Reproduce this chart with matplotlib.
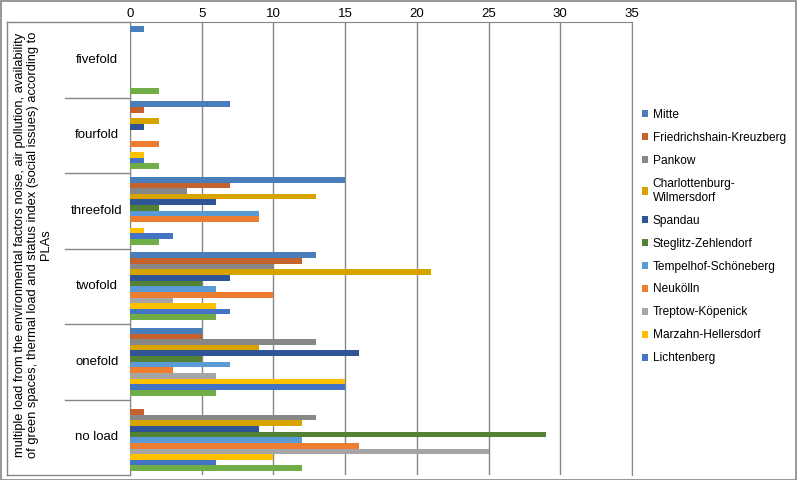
import matplotlib
matplotlib.use("Agg")
import matplotlib.pyplot as plt
import matplotlib.transforms as mtrans
from matplotlib.patches import Rectangle
from matplotlib.lines import Line2D
import numpy as np

plt.rcParams['font.family'] = ['Liberation Sans', 'DejaVu Sans']

categories = ["fivefold", "fourfold", "threefold", "twofold", "onefold", "no load"]
districts = ["Mitte", "Friedrichshain-Kreuzberg", "Pankow", "Charlottenburg-\nWilmersdorf",
             "Spandau", "Steglitz-Zehlendorf", "Tempelhof-Schöneberg", "Neukölln",
             "Treptow-Köpenick", "Marzahn-Hellersdorf", "Lichtenberg", "Reinickendorf"]
colors = ["#4a7ebb", "#c5612d", "#878787", "#d6a300", "#2f5597", "#548235",
          "#5b9bd5", "#ed7d31", "#a5a5a5", "#ffc000", "#4472c4", "#70ad47"]

# values per district, in order of categories (fivefold ... no load)
mitte          = [1, 7, 15, 13, 5, 0]
friedrichshain = [0, 1, 7, 12, 5, 1]
pankow         = [0, 0, 4, 10, 13, 13]
charlottenburg = [0, 2, 13, 21, 9, 12]
spandau        = [0, 1, 6, 7, 16, 9]
steglitz       = [0, 0, 2, 5, 5, 29]
tempelhof      = [0, 0, 9, 6, 7, 12]
neukoelln      = [0, 2, 9, 10, 3, 16]
treptow        = [0, 0, 0, 3, 6, 25]
marzahn        = [0, 1, 1, 6, 15, 10]
lichtenberg    = [0, 1, 3, 7, 15, 6]
reinickendorf  = [2, 2, 2, 6, 6, 12]
series = [mitte, friedrichshain, pankow, charlottenburg, spandau, steglitz,
          tempelhof, neukoelln, treptow, marzahn, lichtenberg, reinickendorf]

xticks = [0, 5, 10, 15, 20, 25, 30, 35]
axis_title = ("multiple load from the environmental factors noise, air pollution, availability\n"
              "of green spaces, thermal load and status index (social issues) according to\nPLAs")

W, H = 797, 480
fig = plt.figure(figsize=(W / 100, H / 100), dpi=100)
left, right, top, bottom = 130, 632, 22, 475
ax = fig.add_axes([left / W, 1 - bottom / H, (right - left) / W, (bottom - top) / H])

grid_c = "#868686"
n = len(series)
step = 0.0747
ypos = np.arange(len(categories))
handles = []
for j, (vals, col) in enumerate(zip(series, colors)):
    b = ax.barh(ypos + (j - (n - 1) / 2) * step, vals, height=step, color=col,
                label=districts[j], zorder=3)
    handles.append(b)

ax.set_ylim(len(categories) - 0.5, -0.5)
ax.set_xlim(0, 35)
ax.xaxis.tick_top()
ax.set_xticks(xticks)
ax.tick_params(axis='x', length=0, labelsize=9.5, pad=1.5, colors='black')
ax.set_yticks([])
ax.grid(axis='x', color=grid_c, linewidth=1, zorder=0)
ax.spines['bottom'].set_visible(False)
for s in ['left', 'top', 'right']:
    ax.spines[s].set_color(grid_c)

# category labels and separators
trans = mtrans.blended_transform_factory(fig.transFigure, ax.transData)
for i, c in enumerate(categories):
    fig.text(97 / W, i, c, transform=trans, ha='center', va='center', fontsize=9.5)
for b_ in np.arange(0.5, len(categories) - 0.5, 1.0):
    fig.add_artist(Line2D([65 / W, left / W], [b_, b_], transform=trans, color=grid_c, lw=1))

# label box lines
fig.add_artist(Line2D([7 / W, left / W], [1 - top / H, 1 - top / H], transform=fig.transFigure, color=grid_c, lw=1))
fig.add_artist(Line2D([7 / W, left / W], [1 - bottom / H, 1 - bottom / H], transform=fig.transFigure, color=grid_c, lw=1))
fig.add_artist(Line2D([7 / W, 7 / W], [1 - top / H, 1 - bottom / H], transform=fig.transFigure, color=grid_c, lw=1))

fig.text(33 / W, 1 - 245 / H, axis_title, rotation=90, ha='center', va='center',
         fontsize=9.3, multialignment='center', linespacing=1.15)

leg = fig.legend(handles[:11], districts[:11], loc='upper left',
                 bbox_to_anchor=(637 / W, 1 - 104 / H), frameon=False, fontsize=8.6,
                 handlelength=0.55, handleheight=0.55, handletextpad=0.35,
                 labelspacing=0.92, borderaxespad=0)

fig.add_artist(Rectangle((0.5 / W, 0.5 / H), 1 - 1.5 / W, 1 - 1.5 / H, transform=fig.transFigure,
                         fill=False, edgecolor=grid_c, lw=1.2))

fig.savefig("out.png", dpi=100)
